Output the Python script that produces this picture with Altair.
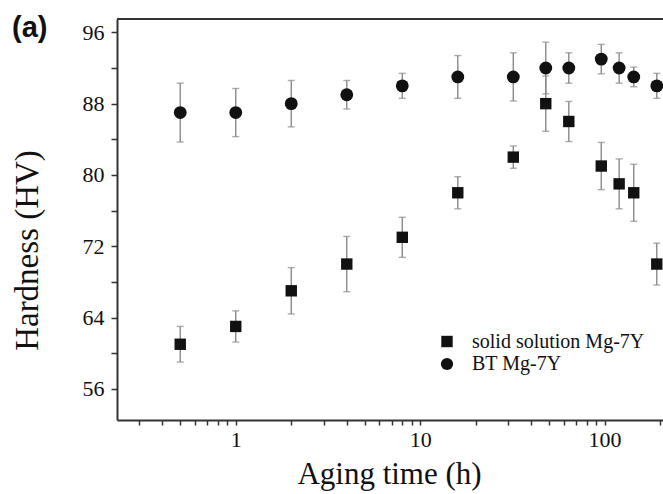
import altair as alt
import pandas as pd

# ---- data ----
times = [0.5, 1, 2, 4, 8, 16, 32, 48, 64, 96, 120, 144, 192]
ss_hv = [61.0, 63.0, 67.0, 70.0, 73.0, 78.0, 82.0, 88.0, 86.0, 81.0, 79.0, 78.0, 70.0]
ss_err = [2.0, 1.75, 2.6, 3.1, 2.25, 1.8, 1.25, 3.1, 2.25, 2.65, 2.8, 3.2, 2.35]
bt_hv = [87.0, 87.0, 88.0, 89.0, 90.0, 91.0, 91.0, 92.0, 92.0, 93.0, 92.0, 91.0, 90.0]
bt_err = [3.3, 2.7, 2.6, 1.6, 1.4, 2.4, 2.7, 2.9, 1.7, 1.65, 1.7, 1.1, 1.4]
series_names = ["solid solution Mg-7Y", "BT Mg-7Y"]
series_shapes = ["square", "circle"]
series_sizes = [130, 165]
x_ticks = [0.3, 0.4, 0.5, 0.6, 0.7, 0.8, 0.9, 1, 2, 3, 4, 5, 6, 7, 8, 9,
           10, 20, 30, 40, 50, 60, 70, 80, 90, 100, 200]
y_ticks = [56, 60, 64, 68, 72, 76, 80, 84, 88, 92, 96]

rows = []
for t, v, e in zip(times, ss_hv, ss_err):
    rows.append({"series": series_names[0], "time": t, "hv": v, "err": e})
for t, v, e in zip(times, bt_hv, bt_err):
    rows.append({"series": series_names[1], "time": t, "hv": v, "err": e})
df = pd.DataFrame(rows)

W, H = 546, 401
AX = "#333333"
SERIF = "Liberation Serif"

xscale = alt.Scale(type="log", domain=[0.227, 207.5], nice=False)
yscale = alt.Scale(domain=[52.5, 97.5], nice=False, zero=False)

xaxis = alt.Axis(
    values=x_ticks,
    labelExpr="(datum.value == 1 || datum.value == 10 || datum.value == 100) ? format(datum.value, 'd') : ''",
    tickSize=5, tickWidth=1.5, tickColor=AX,
    domainColor=AX, domainWidth=2, grid=False,
    labelFont=SERIF, labelFontSize=22, labelColor="#111", labelPadding=4,
    title="Aging time (h)", titleFont=SERIF, titleFontSize=31,
    titleFontWeight="normal", titleColor="#111",
    titleX=272, titleY=63, titleBaseline="alphabetic", titleAlign="center",
)
yaxis = alt.Axis(
    values=y_ticks,
    labelExpr="datum.value % 8 == 0 ? datum.label : ''",
    tickSize=6, tickWidth=1.5, tickColor=AX,
    domainColor=AX, domainWidth=2, grid=False,
    labelFont=SERIF, labelFontSize=22, labelColor="#111", labelPadding=7,
    title="Hardness (HV)", titleFont=SERIF, titleFontSize=33,
    titleFontWeight="normal", titleColor="#111",
    titleX=-80, titleY=231, titleAngle=-90, titleAlign="center",
    titleBaseline="alphabetic",
)

base = alt.Chart(df).transform_calculate(
    lo="datum.hv - datum.err", hi="datum.hv + datum.err"
)

err = base.mark_errorbar(
    color="#8a8a8a", thickness=1.4, ticks={"size": 7, "thickness": 1.4}
).encode(
    x=alt.X("time:Q", scale=xscale, axis=xaxis),
    y=alt.Y("lo:Q", scale=yscale, axis=yaxis),
    y2="hi:Q",
    detail="series:N",
)

shape_scale = alt.Scale(domain=series_names, range=series_shapes)
size_scale = alt.Scale(domain=series_names, range=series_sizes)

pts = base.mark_point(filled=True, opacity=1, color="#111111").encode(
    x=alt.X("time:Q", scale=xscale, axis=xaxis),
    y=alt.Y("hv:Q", scale=yscale, axis=yaxis),
    shape=alt.Shape("series:N", scale=shape_scale, legend=None),
    size=alt.Size("series:N", scale=size_scale, legend=None),
)

top_border = alt.Chart(pd.DataFrame({"k": [0]})).mark_rule(
    color=AX, strokeWidth=2
).encode(x=alt.value(0), x2=alt.value(W), y=alt.value(0))

label = alt.Chart(pd.DataFrame({"t": ["(a)"]})).mark_text(
    align="left", baseline="alphabetic", font="Liberation Sans",
    fontWeight="bold", fontSize=29, color="#111"
).encode(x=alt.value(-105), y=alt.value(18), text="t:N")

# ---- legend drawn by hand (one layer pair per entry) ----
legend_layers = []
for i, name in enumerate(series_names):
    ly = 322.5 + i * 22.5
    ldf = pd.DataFrame({"name": [name]})
    legend_layers.append(
        alt.Chart(ldf).mark_point(
            filled=True, opacity=1, color="#111111",
            shape=series_shapes[i], size=130 if i == 0 else 150,
        ).encode(x=alt.value(330), y=alt.value(ly))
    )
    legend_layers.append(
        alt.Chart(ldf).mark_text(
            align="left", baseline="middle", font=SERIF, fontSize=20,
            color="#111"
        ).encode(x=alt.value(355), y=alt.value(ly), text="name:N")
    )

chart = alt.layer(err, pts, top_border, label, *legend_layers).properties(
    width=W, height=H,
    autosize=alt.AutoSizeParams(type="none"),
    padding={"left": 117, "top": 19, "right": 0, "bottom": 74},
    background="white",
).configure_view(stroke=None)

chart.save("out.html", embed_options={"renderer": "svg", "actions": False})
